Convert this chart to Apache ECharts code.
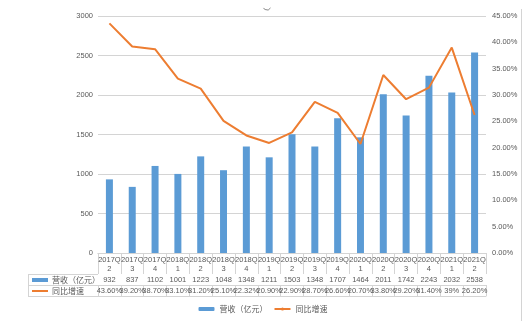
<!DOCTYPE html>
<html>
<head>
<meta charset="utf-8">
<script src="https://cdn.jsdelivr.net/npm/echarts@6/dist/echarts.min.js"></script>
<style>html,body{margin:0;padding:0;background:#fff}#c{width:526px;height:327px}</style>
</head>
<body>
<div id="c"></div>
<script>
const categories = ['2017Q2','2017Q3','2017Q4','2018Q1','2018Q2','2018Q3','2018Q4','2019Q1','2019Q2','2019Q3','2019Q4','2020Q1','2020Q2','2020Q3','2020Q4','2021Q1','2021Q2'];
const revenue = [932, 837, 1102, 1001, 1223, 1048, 1348, 1211, 1503, 1348, 1707, 1464, 2011, 1742, 2243, 2032, 2538];
const growth = [43.60, 39.20, 38.70, 33.10, 31.20, 25.10, 22.32, 20.90, 22.90, 28.70, 26.60, 20.70, 33.80, 29.20, 31.40, 39, 26.20];
const seriesNames = ['营收（亿元）', '同比增速'];

const NUMFONT = "'Liberation Sans', sans-serif";
const CJKFONT = "'Noto Sans CJK SC', sans-serif";
const TXT = '#595959';
const GRID = '#D4D4D4';
const fmtPct = v => (Math.round(v) === v ? v : v.toFixed(2)) + '%';

const chart = echarts.init(document.getElementById('c'), null, {renderer: 'canvas'});
const baseX = {
  type: 'category', data: categories, position: 'bottom',
  axisLine: {show: true, lineStyle: {color: GRID, width: 1}},
  axisTick: {show: true, interval: 0, alignWithLabel: false, lineStyle: {color: GRID}},
  axisLabel: {interval: 0, color: TXT, fontFamily: NUMFONT, fontSize: 7.5}
};
chart.setOption({
  animation: false,
  grid: {left: 98, right: 40, top: 16, bottom: 74, outerBoundsMode: 'none'},
  legend: {
    bottom: 9, left: 'center', itemWidth: 16, itemHeight: 4, itemGap: 6,
    textStyle: {color: TXT, fontFamily: CJKFONT, fontSize: 8},
    data: seriesNames
  },
  xAxis: [
    Object.assign({}, baseX, {
      axisTick: Object.assign({}, baseX.axisTick, {length: 21}),
      axisLabel: Object.assign({}, baseX.axisLabel, {margin: 2, lineHeight: 9.5,
        formatter: v => v.slice(0, 5) + '\n' + v.slice(5)})
    }),
    Object.assign({}, baseX, {
      offset: 21,
      axisTick: Object.assign({}, baseX.axisTick, {length: 11}),
      axisLabel: Object.assign({}, baseX.axisLabel, {margin: 1.5, lineHeight: 9,
        formatter: (v, i) => String(revenue[i])})
    }),
    Object.assign({}, baseX, {
      offset: 32,
      axisTick: Object.assign({}, baseX.axisTick, {length: 11}),
      axisLabel: Object.assign({}, baseX.axisLabel, {margin: 1.5, lineHeight: 9,
        formatter: (v, i) => fmtPct(growth[i])})
    }),
    Object.assign({}, baseX, {
      offset: 43,
      axisTick: {show: false},
      axisLabel: {show: false}
    })
  ],
  yAxis: [
    {
      type: 'value', min: 0, max: 3000, interval: 500,
      axisLine: {show: false}, axisTick: {show: false},
      axisLabel: {color: TXT, fontFamily: NUMFONT, fontSize: 7.5, margin: 5, formatter: v => String(v)},
      splitLine: {lineStyle: {color: GRID, width: 1}}
    },
    {
      type: 'value', min: 0, max: 45, interval: 5, position: 'right',
      axisLine: {show: false}, axisTick: {show: false},
      axisLabel: {color: TXT, fontFamily: NUMFONT, fontSize: 7.5, margin: 6,
        formatter: v => v.toFixed(2) + '%'},
      splitLine: {show: false}
    }
  ],
  series: [
    {name: seriesNames[0], type: 'bar', data: revenue, barWidth: 7,
      itemStyle: {color: '#5B9BD5'}},
    {name: seriesNames[1], type: 'line', yAxisIndex: 1, data: growth,
      symbol: 'none', lineStyle: {color: '#ED7D31', width: 2}, itemStyle: {color: '#ED7D31'}}
  ],
  graphic: [
    {type: 'line', shape: {x1: 28, y1: 274.5, x2: 98, y2: 274.5}, style: {stroke: GRID, lineWidth: 1}},
    {type: 'line', shape: {x1: 28, y1: 285.5, x2: 98, y2: 285.5}, style: {stroke: GRID, lineWidth: 1}},
    {type: 'line', shape: {x1: 28, y1: 296.5, x2: 98, y2: 296.5}, style: {stroke: GRID, lineWidth: 1}},
    {type: 'line', shape: {x1: 28.5, y1: 274, x2: 28.5, y2: 297}, style: {stroke: GRID, lineWidth: 1}},
    {type: 'rect', shape: {x: 32, y: 278, width: 16, height: 4}, style: {fill: '#5B9BD5'}},
    {type: 'text', x: 52, y: 280, style: {text: seriesNames[0], fill: TXT, font: "8px 'Noto Sans CJK SC'", textVerticalAlign: 'middle'}},
    {type: 'line', shape: {x1: 32, y1: 291, x2: 48, y2: 291}, style: {stroke: '#ED7D31', lineWidth: 2}},
    {type: 'text', x: 52, y: 291, style: {text: seriesNames[1], fill: TXT, font: "8px 'Noto Sans CJK SC'", textVerticalAlign: 'middle'}},
    {type: 'line', shape: {x1: 521.5, y1: 9, x2: 521.5, y2: 321}, style: {stroke: GRID, lineWidth: 1}},
    {type: 'arc', shape: {cx: 267, cy: 6, r: 4, startAngle: 0.5, endAngle: Math.PI - 0.5}, style: {stroke: '#888', lineWidth: 1, fill: null}}
  ]
});
</script>
</body>
</html>
